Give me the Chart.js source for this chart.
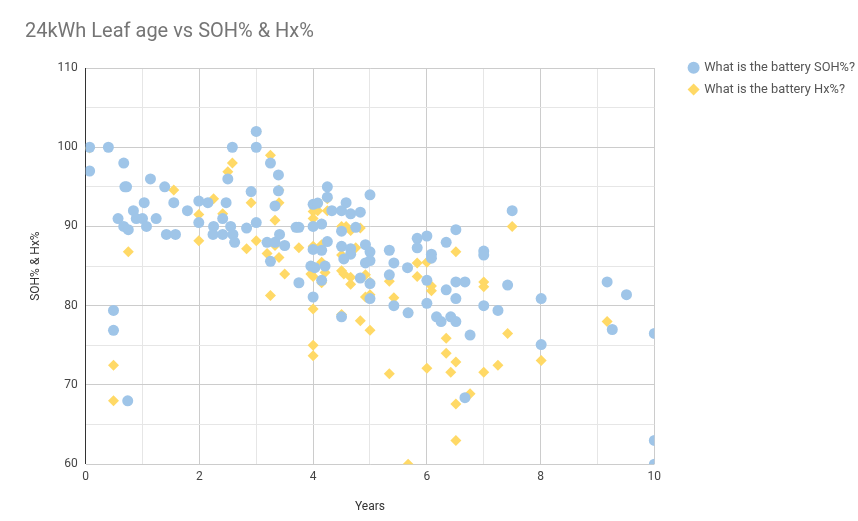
<!DOCTYPE html>
<html><head><meta charset="utf-8">
<script src="https://cdn.jsdelivr.net/npm/chart.js@4/dist/chart.umd.min.js"></script>
<style>html,body{margin:0;padding:0;background:#fff}#w{width:858px;height:521px}</style>
</head><body><div id="w"><canvas id="c"></canvas></div>
<script>
const chartTitle = "24kWh Leaf age vs SOH% & Hx%";
const seriesNames = ["What is the battery SOH%?", "What is the battery Hx%?"];
const xTitle = "Years";
const yTitle = "SOH% & Hx%";

const sohAge = [0.07,0.40,0.07,0.67,0.69,0.72,1.14,1.39,1.55,1.03,1.99,2.15,2.47,0.84,1.79,0.57,0.89,1.0,1.24,0.67,0.75,1.07,1.42,1.58,1.99,2.25,2.24,2.41,2.41,2.55,2.59,2.62,2.83,3.0,2.58,3.0,3.0,2.50,2.91,3.25,3.25,3.19,3.33,3.33,3.39,3.39,0.49,0.49,0.74,3.41,3.50,3.70,3.75,3.75,4.0,4.08,4.0,4.0,4.15,3.96,4.03,4.0,4.15,4.15,4.21,4.25,4.25,4.25,4.33,4.50,4.58,4.50,4.50,4.66,4.83,4.75,4.66,4.66,4.54,4.92,5.0,5.0,4.92,5.0,4.83,5.0,5.0,5.34,5.42,5.66,5.34,5.83,6.0,5.83,6.08,6.08,6.0,6.0,4.50,5.42,5.67,6.17,6.25,6.42,6.51,6.51,6.34,7.0,7.0,6.51,6.67,6.34,7.42,6.51,8.01,7.0,7.25,7.50,6.76,8.01,6.67,9.17,9.51,9.26,10,10,10];
const sohValue = [100,100,97.0,98,95,95,96,95,93,93,93.2,93,93,92,92,91,91,91,91,90,89.6,90,89,89,90.5,90,89,89,91,90,89,88,89.8,90.5,100,100,102,96,94.4,98,85.6,88,88,92.6,96.5,94.5,79.4,76.9,68,89.0,87.6,89.9,89.9,82.9,92.8,92.95,90,87.1,87.0,85.0,84.8,81.1,90.3,83.2,85.0,95,93.7,88.1,92,92,93,89.4,87.5,91.6,91.8,89.9,87.2,86.5,85.9,87.7,94,86.8,85.4,85.7,83.5,82.8,80.9,87.0,85.4,84.8,83.9,88.5,88.8,87.3,86.5,86.0,83.2,80.3,78.6,80.0,79.1,78.6,78.0,78.6,78.0,89.6,88.0,86.9,86.4,83.0,83.0,82.0,82.6,80.9,80.9,80.0,79.4,92.0,76.3,75.1,68.4,83,81.4,77,76.5,63,60];

const hxAge = [0.07,0.75,1.55,1.99,1.99,2.25,2.41,2.50,2.58,2.91,3.0,2.83,3.0,3.25,3.19,3.33,3.25,3.33,3.40,3.40,3.40,0.49,0.49,3.50,3.70,3.75,4.0,4.0,4.08,4.25,4.25,4.15,4.0,4.15,3.96,4.0,4.15,4.21,4.15,4.50,4.58,4.66,4.83,4.50,4.75,4.50,4.54,4.66,4.66,4.92,5.0,4.92,5.0,5.34,5.42,5.83,6.0,5.83,6.08,6.08,4.0,4.50,4.83,5.0,4.0,4.0,5.67,5.34,6.0,5.67,6.51,7.0,7.0,7.50,6.34,7.42,6.34,6.51,6.42,7.0,7.25,8.01,6.76,6.51,6.51,9.17];
const hxValue = [99.9,86.8,94.6,91.5,88.2,93.5,91.6,96.9,98,93,88.2,87.2,102,99,86.6,87.6,81.3,90.8,94.6,93.0,86.1,72.5,68,84.0,89.9,87.3,91.9,91.0,92.0,93.5,92.0,90.3,87.5,87.7,84.0,83.7,85.5,84.2,82.9,90,90,89.5,89.8,86.4,87.3,84.4,84.0,83.6,82.7,83.9,83.0,81.1,81.4,83.1,81.0,85.4,85.5,83.7,82.5,81.9,79.6,78.9,78.1,76.9,75.0,73.7,79.1,71.4,72.1,60,86.8,83.0,82.4,90,75.9,76.5,74.0,72.9,71.6,71.6,72.5,73.1,68.9,67.6,63.0,78];

const xMin = 0, xMax = 10, xStep = 1;
const yMin = 60, yMax = 110, yStep = 5;

function pts(xs, ys){ return xs.map((x,i)=>({x:x, y:ys[i]})); }

const LEGEND_GAP = 19, LEGEND_SHIFT = 7;
const legendGap = {
  id:'legendGap',
  beforeLayout(chart){
    const lg = chart.legend;
    if (lg && !lg._gapWrapped){
      const f = lg.fit.bind(lg);
      lg.fit = function(){ f(); this.width += LEGEND_GAP; };
      lg._gapWrapped = true;
    }
  },
  afterLayout(chart){
    const lg = chart.legend;
    if (lg){ lg.left += LEGEND_GAP + LEGEND_SHIFT; lg.right += LEGEND_SHIFT; lg.width -= LEGEND_GAP; }
  }
};

const FONT = "Roboto";
new Chart(document.getElementById('c'), {
  type: 'scatter',
  plugins:[legendGap],
  data: {
    datasets: [
      {label: seriesNames[0], data: pts(sohAge, sohValue), backgroundColor:'#9fc5e8', borderColor:'#9fc5e8', pointStyle:'circle', pointRadius:5.5, pointHoverRadius:5.5, borderWidth:0},
      {label: seriesNames[1], data: pts(hxAge, hxValue), backgroundColor:'#ffd966', borderColor:'#ffd966', pointStyle:'rectRot', pointRadius:5.5, pointHoverRadius:5.5, borderWidth:0}
    ]
  },
  options: {
    responsive:true, maintainAspectRatio:false, animation:false,
    layout:{padding:{left:25, right:0, top:10, bottom:3}},
    plugins:{
      title:{display:true, text:chartTitle, align:'start', color:'#757575', font:{family:FONT, size:20, weight:'normal'}, padding:{top:10, bottom:24}},
      legend:{position:'right', align:'start',
        title:{display:true, text:' ', font:{family:FONT, size:12}, padding:{top:0, bottom:28}},
        labels:{usePointStyle:true, boxWidth:8.5, boxHeight:8.5, padding:9, color:'#555', font:{family:FONT, size:12.8}}},
      tooltip:{enabled:false}
    },
    scales:{
      x:{type:'linear', min:xMin, max:xMax,
        ticks:{stepSize:xStep, color:'#444', font:{family:FONT, size:12}, callback:v=> (v%2===0? v : ''), maxRotation:0, padding:6},
        grid:{color:ctx=> ctx.tick.value===0 ? '#333' : (ctx.tick.value%2===0 ? '#ccc' : '#e6e6e6'), drawTicks:false, lineWidth:1},
        border:{display:false},
        title:{display:true, text:xTitle, color:'#333', font:{family:FONT, size:12}, padding:{top:9}}
      },
      y:{min:yMin, max:yMax,
        ticks:{stepSize:yStep, color:'#444', font:{family:FONT, size:12}, callback:v=> (v%10===0? v : ''), padding:8},
        grid:{color:ctx=> ctx.tick.value%10===0 ? '#ccc' : '#e6e6e6', drawTicks:false, lineWidth:1},
        border:{display:false},
        title:{display:true, text:yTitle, color:'#333', font:{family:FONT, size:12}, padding:{bottom:6}}
      }
    }
  }
});
</script>
</body></html>
